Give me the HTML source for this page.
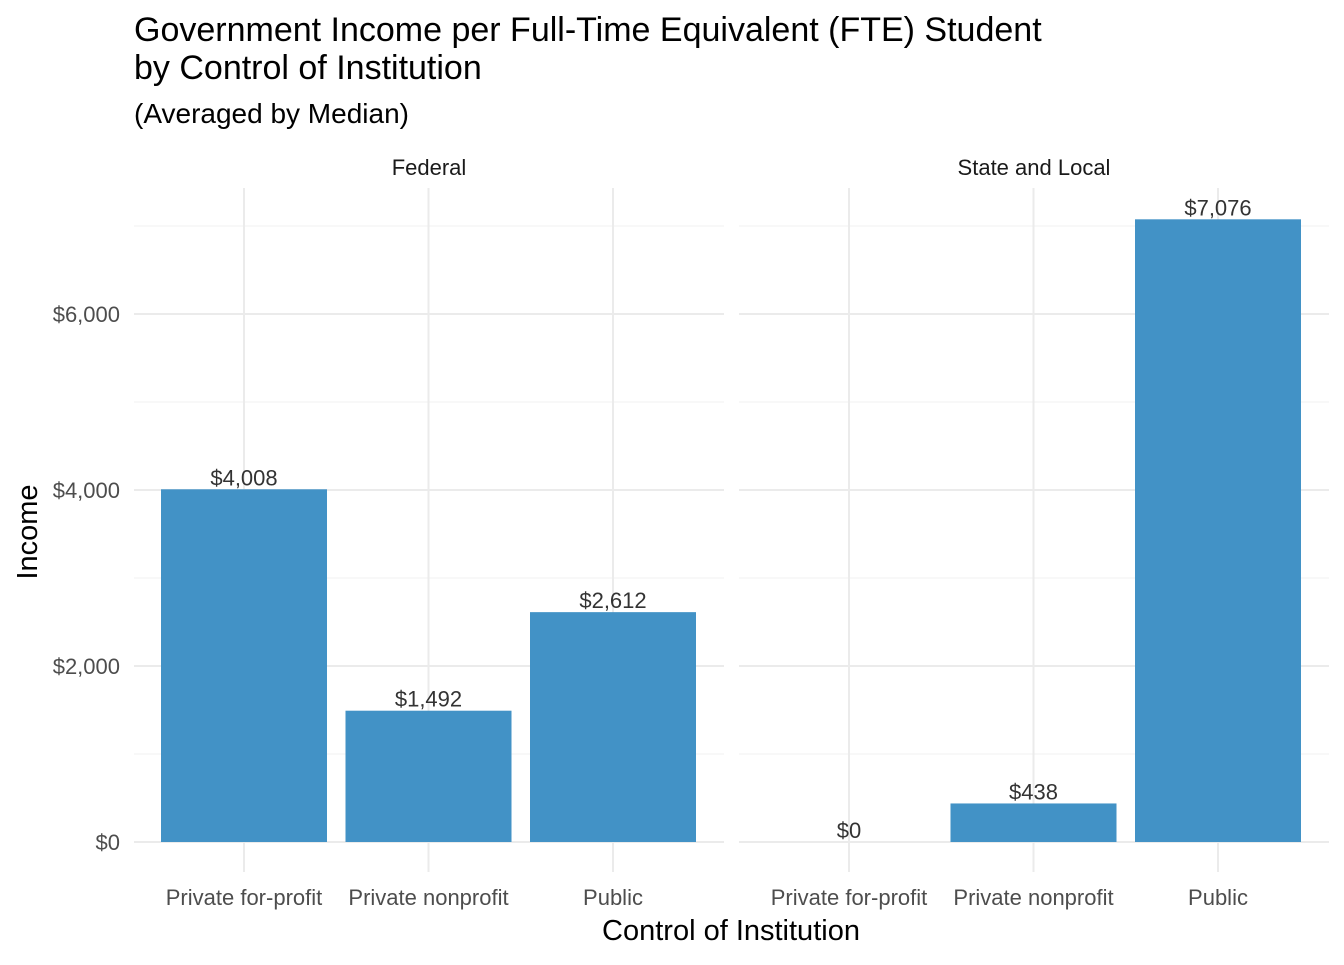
<!DOCTYPE html>
<html><head><meta charset="utf-8"><style>
body{margin:0;background:#fff;}
svg text{font-family:"Liberation Sans",Arial,sans-serif;}
</style></head><body>
<svg id="chart" width="1344" height="960" viewBox="0 0 1344 960">
<text x="134" y="41" font-size="34" fill="#000">Government Income per Full-Time Equivalent (FTE) Student</text>
<text x="134" y="79" font-size="34" fill="#000">by Control of Institution</text>
<text x="134" y="123" font-size="28" fill="#000">(Averaged by Median)</text>
<text x="37" y="532" font-size="29" fill="#000" text-anchor="middle" transform="rotate(-90 37 532)">Income</text>
<text x="731" y="940" font-size="29" fill="#000" text-anchor="middle">Control of Institution</text>
<g id="plot"></g>
</svg>
<script>
const panels = ["Federal", "State and Local"];
const categories = ["Private for-profit", "Private nonprofit", "Public"];
const federalValues = [4008, 1492, 2612];
const stateValues = [0, 438, 7076];
const majorTicks = [0, 2000, 4000, 6000];
const tickLabels = ["$0", "$2,000", "$4,000", "$6,000"];
const minorTicks = [1000, 3000, 5000, 7000];

const NS = "http://www.w3.org/2000/svg";
const g = document.getElementById("plot");
const panelX = [134, 739], panelW = 590, plotTop = 188;
function y(v){ return 842 - v * 0.088; }
function xc(p, i){ return panelX[p] + 110 + i * 184.5; }
function mk(tag, attrs, parent){ const e = document.createElementNS(NS, tag); for (const k in attrs) e.setAttribute(k, attrs[k]); (parent||g).appendChild(e); return e; }
function fmt(v){ return "$" + v.toLocaleString("en-US"); }

majorTicks.forEach((t, i) => {
  const l = mk("text", {x: 120, y: y(t) + 8, "font-size": 22, fill: "#4d4d4d", "text-anchor": "end"});
  
  
  l.textContent = tickLabels[i];
});

const seriesList = [federalValues, stateValues];
panels.forEach((pn, p) => {
  const pg = mk("g", {});
  
  
  minorTicks.forEach(t => {
    const l = mk("line", {x1: panelX[p], x2: panelX[p] + panelW, y1: y(t), y2: y(t), stroke: "#f0f0f0", "stroke-width": 1}, pg);
    
    
  });
  majorTicks.forEach(t => {
    const l = mk("line", {x1: panelX[p], x2: panelX[p] + panelW, y1: y(t), y2: y(t), stroke: "#ebebeb", "stroke-width": 2}, pg);
    
    
  });
  categories.forEach((c, i) => {
    const l = mk("line", {x1: xc(p, i), x2: xc(p, i), y1: plotTop, y2: 872, stroke: "#ebebeb", "stroke-width": 2}, pg);
    
    
  });
  const s = mk("text", {x: panelX[p] + panelW / 2, y: 175, "font-size": 22, fill: "#1a1a1a", "text-anchor": "middle"}, pg);
  
  
  s.textContent = pn;
  categories.forEach((c, i) => {
    const v = seriesList[p][i];
    const b = mk("rect", {x: xc(p, i) - 83, y: y(v), width: 166, height: y(0) - y(v), fill: "#4292c6"}, pg);
    
    
    const vl = mk("text", {x: xc(p, i), y: y(v) - 4, "font-size": 22, fill: "#333", "text-anchor": "middle"}, pg);
    
    
    vl.textContent = fmt(v);
    const xl = mk("text", {x: xc(p, i), y: 905, "font-size": 22, fill: "#4d4d4d", "text-anchor": "middle"}, pg);
    
    
    xl.textContent = c;
  });
});
</script>
</body></html>
